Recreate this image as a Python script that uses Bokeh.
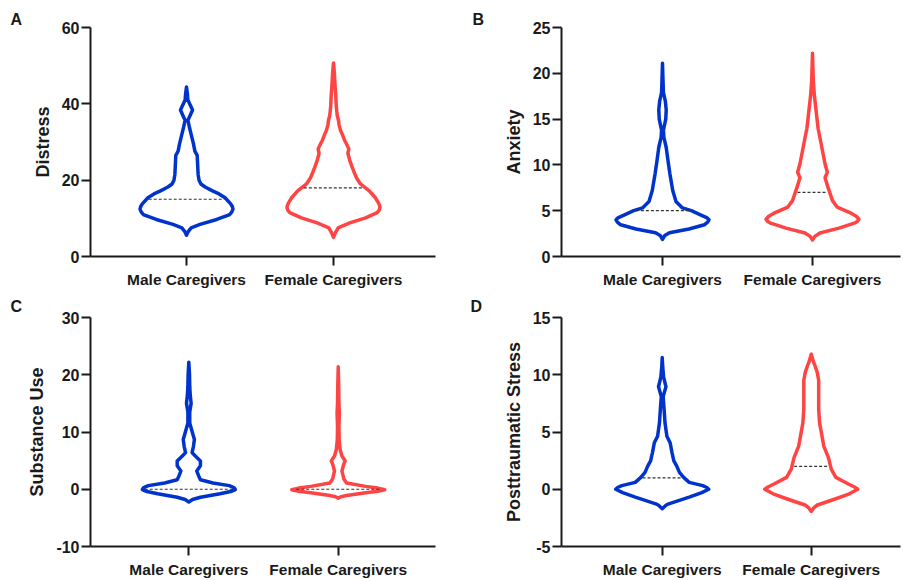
import numpy as np
from bokeh.plotting import figure
from bokeh.layouts import column, row
from bokeh.models import Range1d, FixedTicker
from bokeh.embed import file_html
from bokeh.resources import INLINE

categories = ["Male Caregivers", "Female Caregivers"]

# ---- Panel A: Distress ----
distress_male_levels = [5.6, 6.6, 7.5, 8.4, 9.7, 11.0, 11.7, 12.4, 13.1, 13.8, 15.4, 16.4, 17.2, 18.2, 19.0, 20.0,
                        21.5, 24.0, 26.5, 27.6, 29.5, 32.0, 34.0, 35.7, 37.0, 38.4, 39.7, 41.0, 42.5, 44.4]
distress_male_density = [0, 0.04, 0.10, 0.29, 0.65, 0.93, 0.975, 1.0, 0.985, 0.95, 0.83, 0.70, 0.56, 0.40, 0.31,
                         0.27, 0.25, 0.24, 0.23, 0.18, 0.15, 0.10, 0.06, 0.03, 0.08, 0.13, 0.08, 0.03, 0.02, 0]
distress_female_levels = [5.0, 6.2, 7.5, 8.8, 10.1, 11.5, 12.1, 12.8, 13.4, 14.0, 15.4, 17.2, 19.0, 20.5, 21.6,
                          23.5, 25.2, 27.0, 28.2, 29.5, 30.4, 32.0, 33.1, 34.5, 35.5, 37.0, 39.3, 42.0, 45.5,
                          48.0, 50.7]
distress_female_density = [0, 0.04, 0.10, 0.35, 0.69, 0.94, 0.98, 1.0, 0.99, 0.97, 0.90, 0.77, 0.58, 0.50, 0.46,
                           0.40, 0.35, 0.31, 0.33, 0.28, 0.24, 0.19, 0.15, 0.12, 0.11, 0.08, 0.06, 0.05, 0.03,
                           0.02, 0]
distress_medians = [15, 18]

# ---- Panel B: Anxiety ----
anxiety_male_levels = [1.86, 2.3, 2.6, 3.0, 3.46, 3.75, 4.0, 4.25, 4.5, 5.0, 5.3, 6.0, 7.2, 9.0, 10.4, 11.9, 13.0,
                       13.8, 15.0, 16.0, 17.0, 17.9, 19.4, 21.1]
anxiety_male_density = [0, 0.05, 0.15, 0.57, 0.90, 0.97, 1.0, 0.95, 0.84, 0.62, 0.43, 0.29, 0.22, 0.16, 0.12,
                        0.08, 0.03, 0.02, 0.07, 0.08, 0.06, 0.02, 0.01, 0]
anxiety_female_levels = [1.8, 2.2, 2.57, 3.1, 3.64, 3.85, 4.07, 4.4, 4.7, 5.4, 6.1, 7.6, 8.6, 9.2, 10.1, 12.2,
                         14.0, 15.8, 17.6, 19.0, 20.4, 22.2]
anxiety_female_density = [0, 0.05, 0.16, 0.57, 0.90, 0.97, 1.0, 0.94, 0.84, 0.53, 0.43, 0.33, 0.27, 0.32, 0.27,
                          0.19, 0.12, 0.08, 0.04, 0.02, 0.01, 0]
anxiety_medians = [5, 7]

# ---- Panel C: Substance Use ----
substance_male_levels = [-2.24, -1.8, -1.4, -0.8, -0.4, -0.05, 0.3, 0.63, 1.1, 1.67, 2.36, 3.2, 4.1, 4.95, 5.8,
                         6.4, 7.5, 8.7, 10.4, 11.6, 13.5, 15.0, 16.5, 18.0, 20.0, 22.2]
substance_male_density = [0, 0.08, 0.25, 0.67, 0.90, 1.0, 0.97, 0.87, 0.52, 0.25, 0.21, 0.17, 0.25, 0.25, 0.14,
                          0.07, 0.10, 0.12, 0.06, 0.02, 0.02, 0.05, 0.03, 0.02, 0.015, 0]
substance_female_levels = [-1.55, -1.3, -1.1, -0.63, -0.35, -0.1, 0.2, 0.5, 1.1, 1.8, 3.2, 4.4, 4.95, 5.8, 7.0,
                           8.7, 11.0, 13.3, 15.0, 18.0, 21.4]
substance_female_density = [0, 0.06, 0.18, 0.59, 0.85, 1.0, 0.85, 0.59, 0.18, 0.12, 0.08, 0.12, 0.15, 0.08,
                            0.04, 0.02, 0.015, 0.025, 0.015, 0.01, 0]
substance_medians = [0, 0]

# ---- Panel D: Posttraumatic Stress ----
ptsd_male_levels = [-1.7, -1.4, -1.27, -0.69, -0.3, 0.0, 0.15, 0.32, 0.6, 1.04, 1.47, 2.04, 2.47, 3.2, 4.06,
                    4.63, 5.78, 7.0, 8.1, 8.95, 9.8, 10.7, 11.5]
ptsd_male_density = [0, 0.08, 0.14, 0.58, 0.85, 1.0, 0.96, 0.87, 0.58, 0.46, 0.37, 0.31, 0.25, 0.21, 0.17,
                     0.10, 0.06, 0.04, 0.02, 0.08, 0.03, 0.01, 0]
ptsd_female_levels = [-1.93, -1.6, -1.4, -0.83, -0.4, 0.0, 0.2, 0.46, 1.04, 1.75, 2.76, 3.77, 4.9, 5.78, 7.0,
                      8.66, 9.5, 10.2, 10.8, 11.1, 11.8]
ptsd_female_density = [0, 0.06, 0.12, 0.53, 0.82, 1.0, 0.93, 0.80, 0.53, 0.43, 0.37, 0.27, 0.22, 0.18, 0.16,
                       0.16, 0.16, 0.13, 0.08, 0.05, 0]
ptsd_medians = [1, 2]

y_ticks_A = [0, 20, 40, 60]
y_ticks_B = [0, 5, 10, 15, 20, 25]
y_ticks_C = [-10, 0, 10, 20, 30]
y_ticks_D = [-5, 0, 5, 10, 15]

BLUE = "#0033CC"
RED = "#FF4444"
INK = "#1a1a1a"
FONT = "Liberation Sans"
HALF_PX = 46.5


def make_panel(letter, letter_offset, letter_standoff, ylabel, yticks, violins, medians, width, height,
               mb_left, mb_right, mb_top, mb_bottom, x_start, x_end):
    p = figure(width=width, height=height, output_backend="svg", toolbar_location=None,
               x_range=Range1d(x_start, x_end), y_range=Range1d(yticks[0], yticks[-1]),
               min_border_left=mb_left, min_border_right=mb_right, min_border_top=mb_top,
               min_border_bottom=mb_bottom)
    p.outline_line_color = None
    p.grid.visible = False
    p.background_fill_color = "white"
    p.border_fill_color = "white"

    # panel letter
    p.title.text = letter
    p.title.align = "left"
    p.title.offset = letter_offset
    p.title.standoff = letter_standoff
    p.title.text_font = FONT
    p.title.text_font_style = "bold"
    p.title.text_font_size = "16px"
    p.title.text_color = INK
    p.title.vertical_align = "bottom"

    frame_w = width - mb_left - mb_right
    px = (x_end - x_start) / frame_w
    hw_unit = HALF_PX * px

    colors = [BLUE, RED]
    for i, (levels, dens) in enumerate(violins):
        c = i + 1
        lv = np.array(levels, dtype=float)
        dv = np.array(dens, dtype=float) * hw_unit
        xs = np.concatenate([c + dv, (c - dv)[::-1]])
        ys = np.concatenate([lv, lv[::-1]])
        p.patch(xs, ys, fill_color=None, line_color=colors[i], line_width=3.5, line_join="round")
        m = medians[i]
        half = np.interp(m, lv, dv) - 2.2 * px
        p.line([c - half, c + half], [m, m], line_color="#333333", line_width=1.2, line_dash="3 2")

    ax = p.xaxis[0]
    ax.ticker = FixedTicker(ticks=[1, 2])
    ax.major_label_overrides = {1: categories[0], 2: categories[1]}
    ax.major_label_text_font = FONT
    ax.major_label_text_font_style = "bold"
    ax.major_label_text_font_size = "15.5px"
    ax.major_label_text_color = INK
    ax.major_label_standoff = 5
    ax.axis_line_width = 2
    ax.axis_line_color = INK
    ax.major_tick_line_width = 2
    ax.major_tick_line_color = INK
    ax.major_tick_out = 9
    ax.major_tick_in = 0
    ax.minor_tick_line_color = None

    ay = p.yaxis[0]
    ay.ticker = FixedTicker(ticks=yticks)
    ay.major_label_overrides = {t: ("-" + str(-t)) for t in yticks if t < 0}
    ay.axis_label = ylabel
    ay.axis_label_text_font = FONT
    ay.axis_label_text_font_style = "bold"
    ay.axis_label_text_font_size = "18px"
    ay.axis_label_text_color = INK
    ay.axis_label_standoff = 6
    ay.major_label_text_font = FONT
    ay.major_label_text_font_style = "bold"
    ay.major_label_text_font_size = "16px"
    ay.major_label_text_color = INK
    ay.major_label_standoff = 2
    ay.axis_line_width = 2
    ay.axis_line_color = INK
    ay.major_tick_line_width = 2
    ay.major_tick_line_color = INK
    ay.major_tick_out = 9
    ay.major_tick_in = 0
    ay.minor_tick_line_color = None
    return p


pA = make_panel("A", -80, 0, "Distress", y_ticks_A,
                [(distress_male_levels, distress_male_density), (distress_female_levels, distress_female_density)],
                distress_medians, 450, 290, 90, 15, 27, 32, 0.3469, 2.694)
pB = make_panel("B", -89, 0, "Anxiety", y_ticks_B,
                [(anxiety_male_levels, anxiety_male_density), (anxiety_female_levels, anxiety_female_density)],
                anxiety_medians, 452, 290, 111, 2, 27, 32, 0.3267, 2.5867)
pC = make_panel("C", -80, 6, "Substance Use", y_ticks_C,
                [(substance_male_levels, substance_male_density),
                 (substance_female_levels, substance_female_density)],
                substance_medians, 450, 290, 90, 15, 27, 32, 0.342, 2.651)
pD = make_panel("D", -91, 6, "Posttraumatic Stress", y_ticks_D,
                [(ptsd_male_levels, ptsd_male_density), (ptsd_female_levels, ptsd_female_density)],
                ptsd_medians, 452, 290, 111, 2, 27, 32, 0.324, 2.599)

layout = column(row(pA, pB), row(pC, pD))
open("out.html", "w").write(file_html(layout, INLINE))
